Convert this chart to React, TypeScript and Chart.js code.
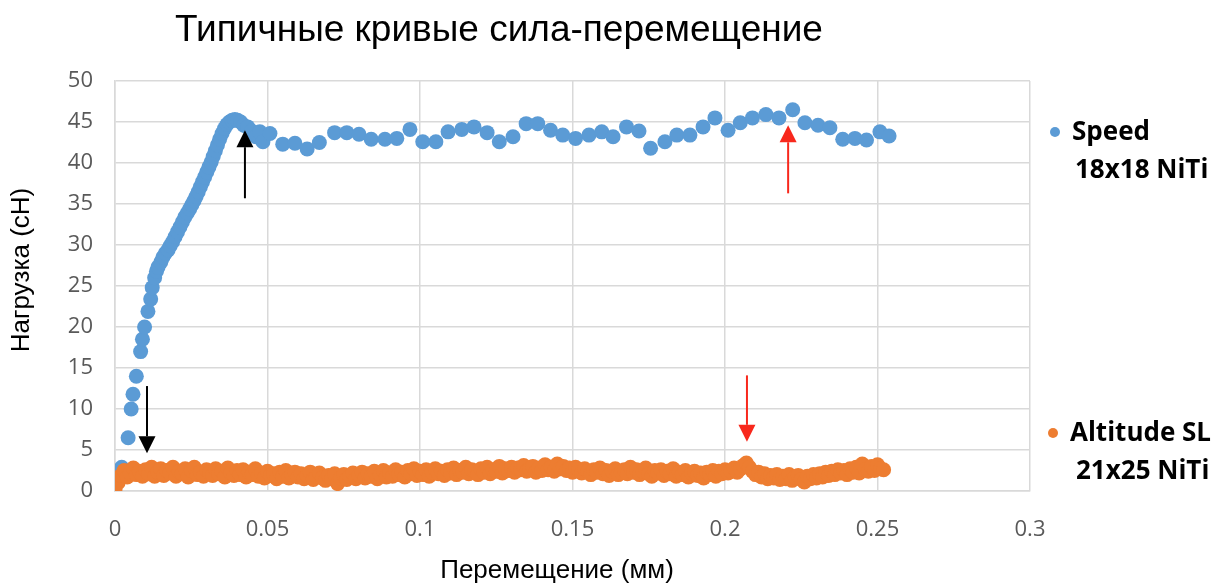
import React, { useEffect, useRef } from "react";
import { Chart, registerables } from "chart.js";

Chart.register(...registerables);

// ---------- Data ----------
const speedX = [
  0.0, 0.0022, 0.0043, 0.0053, 0.0059, 0.007, 0.0084, 0.009, 0.0097, 0.0108, 0.0117, 0.0122,
  0.013, 0.0136, 0.0141, 0.015, 0.0157, 0.0165, 0.0174, 0.0181, 0.0189, 0.0197,
  0.0205, 0.0213, 0.0221, 0.0229, 0.0237, 0.0245, 0.0252, 0.0259, 0.0266, 0.0273,
  0.028, 0.0287, 0.0294, 0.0301, 0.0308, 0.0315, 0.0322, 0.0329, 0.0336, 0.0343,
  0.0351, 0.0359, 0.0367, 0.0375, 0.0384, 0.0393, 0.0402, 0.0412, 0.0422,
  0.0435, 0.0448, 0.0462, 0.0475, 0.0485, 0.0508, 0.055, 0.059, 0.063, 0.067,
  0.072, 0.076, 0.08, 0.084, 0.0885, 0.0924, 0.0967, 0.1009, 0.1052, 0.1092,
  0.1137, 0.1177, 0.122, 0.126, 0.1305, 0.1348, 0.1386, 0.1428, 0.1468, 0.151,
  0.1554, 0.1596, 0.1633, 0.1677, 0.1718, 0.1756, 0.1803, 0.1842, 0.1885, 0.1928,
  0.1967, 0.201, 0.205, 0.209, 0.2134, 0.2177, 0.2222, 0.2262, 0.2305, 0.2344,
  0.2386, 0.2426, 0.2464, 0.2508, 0.2538,
];
const speedY = [
  0.5, 2.9, 6.5, 10.0, 11.8, 14.0, 17.0, 18.5, 20.0, 21.9, 23.4, 24.8,
  26.0, 26.8, 27.3, 27.9, 28.5, 29.0, 29.4, 29.9, 30.4, 31.0,
  31.6, 32.2, 32.8, 33.4, 33.9, 34.4, 34.9, 35.4, 35.9, 36.5,
  37.1, 37.7, 38.3, 38.9, 39.5, 40.1, 40.8, 41.5, 42.2, 42.9,
  43.6, 44.2, 44.7, 45.0, 45.2, 45.3, 45.2, 45.0, 44.6,
  44.4, 43.9, 43.2, 43.8, 42.6, 43.6, 42.3, 42.4, 41.7, 42.5,
  43.7, 43.7, 43.5, 42.9, 42.9, 43.0, 44.1, 42.6, 42.6, 43.8,
  44.1, 44.4, 43.7, 42.6, 43.2, 44.8, 44.8, 44.0, 43.4, 43.0,
  43.4, 43.8, 43.2, 44.4, 43.9, 41.8, 42.6, 43.4, 43.4, 44.4,
  45.5, 44.0, 44.9, 45.5, 45.9, 45.5, 46.5, 44.9, 44.6, 44.3,
  42.9, 43.0, 42.8, 43.8, 43.3,
];

const altitudeX = [
  0.000, 0.001, 0.002, 0.003, 0.004, 0.005, 0.006, 0.007, 0.008, 0.009,
  0.010, 0.011, 0.012, 0.013, 0.014, 0.015, 0.016, 0.017, 0.018, 0.019,
  0.020, 0.021, 0.022, 0.023, 0.024, 0.025, 0.026, 0.027, 0.028, 0.029,
  0.030, 0.031, 0.032, 0.033, 0.034, 0.035, 0.036, 0.037, 0.038, 0.039,
  0.040, 0.041, 0.042, 0.043, 0.044, 0.045, 0.046, 0.047, 0.048, 0.049,
  0.050, 0.051, 0.052, 0.053, 0.054, 0.055, 0.056, 0.057, 0.058, 0.059,
  0.060, 0.061, 0.062, 0.063, 0.064, 0.065, 0.066, 0.067, 0.068, 0.069,
  0.070, 0.071, 0.072, 0.073, 0.074, 0.075, 0.076, 0.077, 0.078, 0.079,
  0.080, 0.081, 0.082, 0.083, 0.084, 0.085, 0.086, 0.087, 0.088, 0.089,
  0.090, 0.091, 0.092, 0.093, 0.094, 0.095, 0.096, 0.097, 0.098, 0.099,
  0.100, 0.101, 0.102, 0.103, 0.104, 0.105, 0.106, 0.107, 0.108, 0.109,
  0.110, 0.111, 0.112, 0.113, 0.114, 0.115, 0.116, 0.117, 0.118, 0.119,
  0.120, 0.121, 0.122, 0.123, 0.124, 0.125, 0.126, 0.127, 0.128, 0.129,
  0.130, 0.131, 0.132, 0.133, 0.134, 0.135, 0.136, 0.137, 0.138, 0.139,
  0.140, 0.141, 0.142, 0.143, 0.144, 0.145, 0.146, 0.147, 0.148, 0.149,
  0.150, 0.151, 0.152, 0.153, 0.154, 0.155, 0.156, 0.157, 0.158, 0.159,
  0.160, 0.161, 0.162, 0.163, 0.164, 0.165, 0.166, 0.167, 0.168, 0.169,
  0.170, 0.171, 0.172, 0.173, 0.174, 0.175, 0.176, 0.177, 0.178, 0.179,
  0.180, 0.181, 0.182, 0.183, 0.184, 0.185, 0.186, 0.187, 0.188, 0.189,
  0.190, 0.191, 0.192, 0.193, 0.194, 0.195, 0.196, 0.197, 0.198, 0.199,
  0.200, 0.201, 0.202, 0.203, 0.204, 0.205, 0.206, 0.207, 0.208, 0.209,
  0.210, 0.211, 0.212, 0.213, 0.214, 0.215, 0.216, 0.217, 0.218, 0.219,
  0.220, 0.221, 0.222, 0.223, 0.224, 0.225, 0.226, 0.227, 0.228, 0.229,
  0.230, 0.231, 0.232, 0.233, 0.234, 0.235, 0.236, 0.237, 0.238, 0.239,
  0.240, 0.241, 0.242, 0.243, 0.244, 0.245, 0.246, 0.247, 0.248, 0.249,
  0.250, 0.251, 0.252,
];
const altitudeY = [
  0.2, 1.0, 1.9, 2.5, 1.7, 2.2, 2.8, 2.0, 2.4, 1.8,
  2.6, 2.1, 2.9, 1.8, 2.3, 2.7, 1.9, 2.5, 2.2, 2.9,
  1.8, 2.4, 2.1, 2.7, 1.7, 2.5, 2.9, 2.0, 2.3, 1.8,
  2.6, 2.2, 1.9, 2.7, 2.1, 2.4, 1.7, 2.8, 2.2, 1.9,
  2.5, 2.0, 2.6, 1.7, 2.3, 2.0, 2.7, 1.8, 2.2, 1.6,
  2.4, 1.9, 2.1, 1.5, 2.3, 1.8, 2.5, 1.6, 2.0, 2.3,
  1.7, 2.1, 1.5, 1.9, 2.3, 1.4, 1.8, 2.2, 1.6, 1.3,
  1.9, 1.5, 2.1, 0.9, 1.6, 2.0, 1.4, 1.8, 2.2, 1.5,
  1.9, 2.3, 1.6, 2.1, 1.8, 2.4, 1.5, 2.0, 2.5, 1.7,
  2.2, 1.8, 2.6, 2.0, 2.3, 1.7, 2.5, 2.1, 2.7, 1.9,
  2.4, 2.0, 2.6, 1.8, 2.3, 2.7, 2.1, 2.4, 1.9, 2.6,
  2.2, 2.8, 2.0, 2.5, 2.3, 2.9, 2.1, 2.6, 2.4, 2.0,
  2.7, 2.3, 2.9, 2.1, 2.6, 2.4, 3.0, 2.2, 2.7, 2.5,
  2.9, 2.3, 2.8, 2.6, 3.1, 2.4, 2.7, 3.0, 2.3, 2.8,
  2.5, 3.2, 2.6, 2.9, 2.4, 3.3, 2.7, 3.0, 2.5, 2.8,
  2.3, 2.9, 2.6, 2.2, 2.7, 2.4, 2.0, 2.6, 2.3, 2.8,
  2.1, 2.5, 1.9, 2.4, 2.7, 2.0, 2.3, 2.6, 2.1, 2.9,
  2.3, 2.6, 2.0, 2.4, 2.8, 2.1, 1.8, 2.5, 2.2, 2.6,
  1.9, 2.4, 2.1, 2.7, 1.8, 2.3, 2.0, 2.5, 1.7, 2.2,
  2.4, 1.9, 2.2, 1.6, 2.3, 2.0, 2.5, 1.8, 2.4, 2.1,
  2.6, 2.2, 2.4, 2.8, 2.3, 2.7, 3.1, 3.4, 2.9, 2.4,
  2.0, 2.3, 1.7, 2.1, 1.5, 1.9, 1.6, 2.0, 1.4, 1.8,
  1.5, 2.0, 1.3, 1.7, 1.9, 1.4, 1.1, 1.8, 1.5, 2.0,
  1.6, 2.1, 1.7, 2.3, 1.9, 2.4, 2.0, 2.6, 2.2, 2.5,
  2.0, 2.7, 2.3, 2.9, 2.2, 3.3, 2.6, 2.4, 3.0, 2.5,
  3.2, 2.7, 2.6,
];

const xTickValues = [0, 0.05, 0.1, 0.15, 0.2, 0.25, 0.3];
const xTickLabels = ["0", "0.05", "0.1", "0.15", "0.2", "0.25", "0.3"];
const yTickValues = [0, 5, 10, 15, 20, 25, 30, 35, 40, 45, 50];

const seriesNames = ["Speed", "Altitude SL"];
const seriesSubNames = ["18x18 NiTi", "21x25 NiTi"];
const seriesColors = ["#5B9BD5", "#ED7D31"];

const titleText = "Типичные кривые сила-перемещение";
const xTitle = "Перемещение (мм)";
const yTitle = "Нагрузка (сН)";

// arrows: x value, from y, to y (tip), colour
const arrowX = [0.0105, 0.0426, 0.2207, 0.2072];
const arrowFrom = [12.8, 35.7, 36.3, 14.1];
const arrowTo = [4.6, 44.0, 44.6, 6.0];
const arrowColors = ["#000000", "#000000", "#F8281C", "#F8281C"];

const overlayPlugin = {
  id: "overlay",
  afterDatasetsDraw(chart: any) {
    const { ctx, scales } = chart;
    const xs = scales.x;
    const ys = scales.y;
    ctx.save();
    for (let i = 0; i < arrowX.length; i++) {
      const px = xs.getPixelForValue(arrowX[i]);
      const y0 = ys.getPixelForValue(arrowFrom[i]);
      const y1 = ys.getPixelForValue(arrowTo[i]);
      const dir = y1 > y0 ? 1 : -1;
      const headLen = 17;
      const headHalf = 8.5;
      ctx.strokeStyle = arrowColors[i];
      ctx.fillStyle = arrowColors[i];
      ctx.lineWidth = 2;
      ctx.beginPath();
      ctx.moveTo(px, y0);
      ctx.lineTo(px, y1 - dir * headLen);
      ctx.stroke();
      ctx.beginPath();
      ctx.moveTo(px, y1);
      ctx.lineTo(px - headHalf, y1 - dir * headLen);
      ctx.lineTo(px + headHalf, y1 - dir * headLen);
      ctx.closePath();
      ctx.fill();
    }
    ctx.restore();
  },
  afterDraw(chart: any) {
    const { ctx } = chart;
    ctx.save();
    // Title
    ctx.fillStyle = "#000000";
    ctx.font = '37px "Liberation Sans", Arial, sans-serif';
    ctx.textAlign = "center";
    ctx.textBaseline = "alphabetic";
    ctx.fillText(titleText, 499, 41);
    // X title
    ctx.font = '26px "Liberation Sans", Arial, sans-serif';
    ctx.textBaseline = "middle";
    ctx.fillText(xTitle, 557, 571);
    // Y title
    ctx.save();
    ctx.translate(22, 270);
    ctx.rotate(-Math.PI / 2);
    ctx.fillText(yTitle, 0, 0);
    ctx.restore();
    // Legend
    const legendY = [132, 433];
    const legendX = [1055, 1053];
    const textX = [1072, 1070];
    const subX = [1075, 1076];
    ctx.font = 'bold 26px "Open Sans", sans-serif';
    ctx.textAlign = "left";
    ctx.textBaseline = "alphabetic";
    for (let i = 0; i < seriesNames.length; i++) {
      ctx.fillStyle = seriesColors[i];
      ctx.beginPath();
      ctx.arc(legendX[i], legendY[i], 5, 0, Math.PI * 2);
      ctx.fill();
      ctx.fillStyle = "#000000";
      ctx.fillText(seriesNames[i], textX[i], legendY[i] + 8);
      ctx.fillText(seriesSubNames[i], subX[i], legendY[i] + 46);
    }
    ctx.restore();
  },
};

export default function App() {
  const canvasRef = useRef<HTMLCanvasElement | null>(null);

  useEffect(() => {
    if (!canvasRef.current) return;
    const toPoints = (xs: number[], ys: number[]) => xs.map((x, i) => ({ x, y: ys[i] }));
    const chart = new Chart(canvasRef.current, {
      type: "scatter",
      data: {
        datasets: [
          {
            label: seriesNames[1],
            data: toPoints(altitudeX, altitudeY),
            backgroundColor: seriesColors[1],
            borderWidth: 0,
            pointRadius: 7.5,
            order: 0,
          },
          {
            label: seriesNames[0],
            data: toPoints(speedX, speedY),
            backgroundColor: seriesColors[0],
            borderWidth: 0,
            pointRadius: 7.5,
            order: 1,
          },
        ],
      },
      options: {
        responsive: false,
        animation: false,
        devicePixelRatio: 1,
        layout: { padding: { left: 0, top: 81, right: 198, bottom: 0 } },
        plugins: {
          legend: { display: false },
          tooltip: { enabled: false },
          title: { display: false },
        },
        scales: {
          x: {
            type: "linear",
            min: 0,
            max: 0.3,
            afterFit: (s: any) => {
              s.height = 94;
            },
            afterBuildTicks: (s: any) => {
              s.ticks = xTickValues.map((v) => ({ value: v }));
            },
            ticks: {
              color: "#595959",
              font: { family: '"Open Sans", sans-serif', size: 22 },
              padding: 26,
              maxRotation: 0,
              callback: (v: any) => {
                const idx = xTickValues.indexOf(Number(v));
                return idx >= 0 ? xTickLabels[idx] : "";
              },
            },
            grid: { color: "#d9d9d9", lineWidth: 1.5, drawTicks: false },
            border: { color: "#d9d9d9", width: 1.5 },
          },
          y: {
            type: "linear",
            min: 0,
            max: 50,
            afterFit: (s: any) => {
              s.width = 115;
            },
            afterBuildTicks: (s: any) => {
              s.ticks = yTickValues.map((v) => ({ value: v }));
            },
            ticks: {
              color: "#595959",
              font: { family: '"Open Sans", sans-serif', size: 22 },
              padding: 22,
              callback: (v: any) => String(v),
            },
            grid: { color: "#d9d9d9", lineWidth: 1.5, drawTicks: false },
            border: { color: "#d9d9d9", width: 1.5 },
          },
        },
      },
      plugins: [overlayPlugin],
    });
    return () => chart.destroy();
  }, []);

  return (
    <div style={{ position: "absolute", left: 0, top: 0, width: 1228, height: 585, background: "#fff" }}>
      <canvas ref={canvasRef} width={1228} height={585} style={{ display: "block" }} />
    </div>
  );
}
